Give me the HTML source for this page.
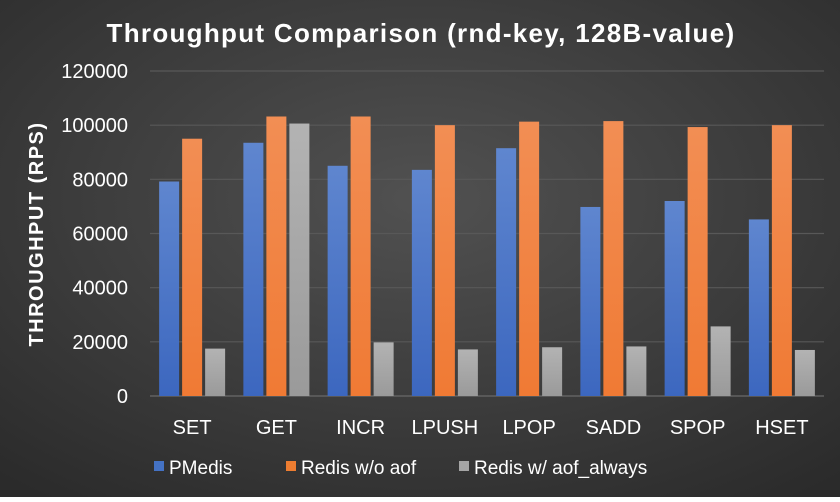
<!DOCTYPE html>
<html><head><meta charset="utf-8"><style>
body{margin:0;width:840px;height:497px;overflow:hidden;font-family:"Liberation Sans",sans-serif}
</style></head><body>
<svg id="c" width="840" height="497">
<defs>
<radialGradient id="bg" cx="50%" cy="40%" r="75%"><stop offset="0" stop-color="#515151"/><stop offset="1" stop-color="#2b2b2b"/></radialGradient>
<linearGradient id="gb" x1="0" y1="0" x2="0" y2="1"><stop offset="0" stop-color="#5f86cf"/><stop offset="1" stop-color="#3c67bf"/></linearGradient>
<linearGradient id="go" x1="0" y1="0" x2="0" y2="1"><stop offset="0" stop-color="#f28e54"/><stop offset="1" stop-color="#f07a34"/></linearGradient>
<linearGradient id="gg" x1="0" y1="0" x2="0" y2="1"><stop offset="0" stop-color="#b3b3b3"/><stop offset="1" stop-color="#9a9a9a"/></linearGradient>
</defs>
<rect width="840" height="497" fill="url(#bg)"/>
<text x="421" y="42" text-anchor="middle" fill="#fff" font-size="26" font-weight="bold" letter-spacing="1.3">Throughput Comparison (rnd-key, 128B-value)</text>
<text transform="translate(43,234) rotate(-90)" text-anchor="middle" fill="#fff" font-size="20" font-weight="bold" letter-spacing="1.5">THROUGHPUT (RPS)</text>
<g id="grid"></g><g id="bars"></g><g id="labels"></g>
<g>
<rect x="154" y="461" width="10" height="10" fill="#4472c4"/>
<text x="169" y="474" fill="#fff" font-size="19">PMedis</text>
<rect x="286" y="461" width="10" height="10" fill="#ed7d31"/>
<text x="301" y="474" fill="#fff" font-size="19">Redis w/o aof</text>
<rect x="459" y="461" width="10" height="10" fill="#a5a5a5"/>
<text x="474" y="474" fill="#fff" font-size="19">Redis w/ aof_always</text>
</g>
</svg>
<script>
const categories=["SET","GET","INCR","LPUSH","LPOP","SADD","SPOP","HSET"];
const pmedis=[79200,93500,85000,83500,91500,69800,72000,65200];
const redisNoAof=[95000,103200,103200,100000,101300,101500,99300,100000];
const redisAofAlways=[17500,100600,19800,17200,18000,18300,25700,17000];
const yTicks=[0,20000,40000,60000,80000,100000,120000];
const NS="http://www.w3.org/2000/svg";
const x0=150,x1=824,yB=396,yT=71,yMax=120000;
const y=v=>yB-(v/yMax)*(yB-yT);
const bw=(x1-x0)/categories.length;
const xc=i=>x0+bw*(i+0.5);
function mk(t,a,p){const e=document.createElementNS(NS,t);for(const k in a)e.setAttribute(k,a[k]);p.appendChild(e);return e;}
const G=document.getElementById('grid'),B=document.getElementById('bars'),L=document.getElementById('labels');
yTicks.forEach(v=>{
 if(v>0){const l=mk('line',{x1:x0,x2:x1,y1:y(v),y2:y(v),stroke:'#585858','stroke-width':1.2},G);
 
 }
 const t=mk('text',{x:128,y:y(v)+7,'text-anchor':'end',fill:'#fff','font-size':20},L);t.textContent=v;
 
 
});
const ax=mk('line',{x1:x0,x2:x1,y1:yB,y2:yB,stroke:'#6a6a6a','stroke-width':1.2},G);


const series=[[pmedis,'url(#gb)','pmedis'],[redisNoAof,'url(#go)','redis-no-aof'],[redisAofAlways,'url(#gg)','redis-aof-always']];
const w=20,gap=3;
categories.forEach((c,i)=>{
 series.forEach((s,j)=>{
  const v=s[0][i],bx=xc(i)-1.5*w-gap+j*(w+gap);
  const r=mk('rect',{x:bx,y:y(v),width:w,height:yB-y(v),fill:s[1]},B);
  
  
 });
 const t=mk('text',{x:xc(i),y:434,'text-anchor':'middle',fill:'#fff','font-size':20},L);t.textContent=c;
 
 
});
</script>
</body></html>
